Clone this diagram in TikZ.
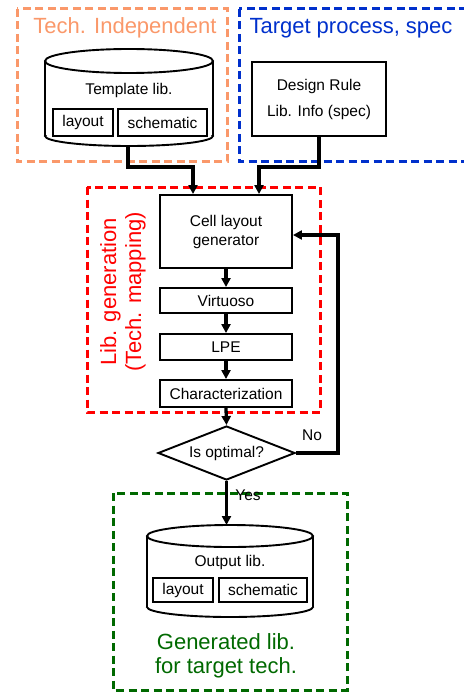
\documentclass[tikz,border=0pt]{standalone}
\usepackage{fontspec}
\setmainfont{Liberation Sans}
\usetikzlibrary{arrows.meta,shapes.geometric}
\definecolor{techorange}{RGB}{250,152,106}
\definecolor{tgtblue}{RGB}{0,48,204}
\definecolor{genred}{RGB}{255,0,0}
\definecolor{outgreen}{RGB}{0,105,0}
\newcommand{\smallfs}{\fontsize{15.5}{18}\selectfont}
\newcommand{\bigfs}{\fontsize{22}{25}\selectfont}
\begin{document}
\begin{tikzpicture}[x=1pt,y=-1pt,
  frame/.style={line width=3pt, dash pattern=on 8pt off 4.5pt},
  stepbox/.style={draw, line width=1.9pt, fill=white, inner sep=0pt, font=\smallfs, align=center},
  cyl/.style={line width=1.9pt},
  flow/.style={line width=3.3pt, line join=miter, -{Triangle[length=9pt,width=9pt]}},
  txt/.style={inner sep=0pt, font=\smallfs, align=center}]
\useasboundingbox (0,0) rectangle (463,695);
% frames
\draw[frame, techorange] (17,9) rectangle (227,162);
\draw[frame, tgtblue] (239,9) rectangle (475,162);
\draw[frame, genred] (87,187) rectangle (320,412);
\draw[frame, outgreen] (113,493) rectangle (347,690);
% titles
\node[inner sep=0pt, font=\bigfs, text=techorange] (techind) at (125,28) {Tech. Independent};
\node[inner sep=0pt, font=\bigfs, text=tgtblue] (target) at (351,28) {Target process, spec};
\node[inner sep=0pt, font=\bigfs, text=genred, align=center, rotate=90] (libgen) at (123,292) {Lib. generation\\(Tech. mapping)};
\node[inner sep=0pt, font=\fontsize{22}{24}\selectfont, text=outgreen, align=center] (gentxt) at (226,656) {Generated lib.\\for target tech.};
% template cylinder
\draw[cyl] (45,61) -- (45,136);
\draw[cyl] (213,61) -- (213,136);
\draw[cyl] (129,61) ellipse [x radius=84pt, y radius=12pt];
\begin{scope}
\clip (40,136) rectangle (220,152);
\draw[cyl] (129,136) ellipse [x radius=84pt, y radius=10pt];
\end{scope}
\coordinate (tlibbot) at (128,146);
\node[txt] (tlibtxt) at (129,90) {Template lib.};
\node[stepbox, minimum width=60pt, minimum height=27pt] (layoutA) at (83,122.5) {layout};
\node[stepbox, minimum width=89pt, minimum height=27pt] (schemA) at (162.5,122.5) {schematic};
% design rule
\node[stepbox, minimum width=134pt, minimum height=74pt] (drule) at (319,99) {Design Rule\\[8pt]Lib. Info (spec)};
% generation chain
\node[stepbox, minimum width=132pt, minimum height=73pt] (cellgen) at (226,231.5) {Cell layout\\[1pt]generator};
\node[stepbox, minimum width=132pt, minimum height=25pt] (virt) at (226,300.5) {Virtuoso};
\node[stepbox, minimum width=132pt, minimum height=26pt] (lpe) at (226,347) {LPE};
\node[stepbox, minimum width=132pt, minimum height=27pt] (charz) at (226,393.5) {Characterization};
\node[draw, diamond, line width=1.9pt, fill=white, inner sep=0pt, aspect=2.54, minimum width=137pt, minimum height=54pt, font=\smallfs] (opt) at (226.5,453) {Is optimal?};
% output cylinder
\draw[cyl] (147,536) -- (147,607);
\draw[cyl] (313,536) -- (313,607);
\draw[cyl] (230,536) ellipse [x radius=83pt, y radius=11pt];
\begin{scope}
\clip (140,607) rectangle (320,622);
\draw[cyl] (230,607) ellipse [x radius=83pt, y radius=10pt];
\end{scope}
\coordinate (olibtop) at (226.5,525);
\node[txt] (olibtxt) at (230,562) {Output lib.};
\node[stepbox, minimum width=60pt, minimum height=24pt] (layoutB) at (183,590) {layout};
\node[stepbox, minimum width=88pt, minimum height=24pt] (schemB) at (263,590) {schematic};
% connectors
\draw[flow] (tlibbot) -- (128,167) -| ([xshift=-33pt]cellgen.north);
\draw[flow] (drule.south) -- (319,167) -| ([xshift=33pt]cellgen.north);
\draw[flow] (cellgen.south) -- (virt.north);
\draw[flow] (virt.south) -- (lpe.north);
\draw[flow] (lpe.south) -- (charz.north);
\draw[flow] (charz.south) -- (opt.north);
\draw[flow] (opt.east) -- (338,453) |- ([yshift=-3.5pt]cellgen.east);
\draw[flow] (opt.south) -- (olibtop);
\node[txt] (nolbl) at (312,435) {No};
\node[txt] (yeslbl) at (248,495) {Yes};
\end{tikzpicture}
\end{document}
